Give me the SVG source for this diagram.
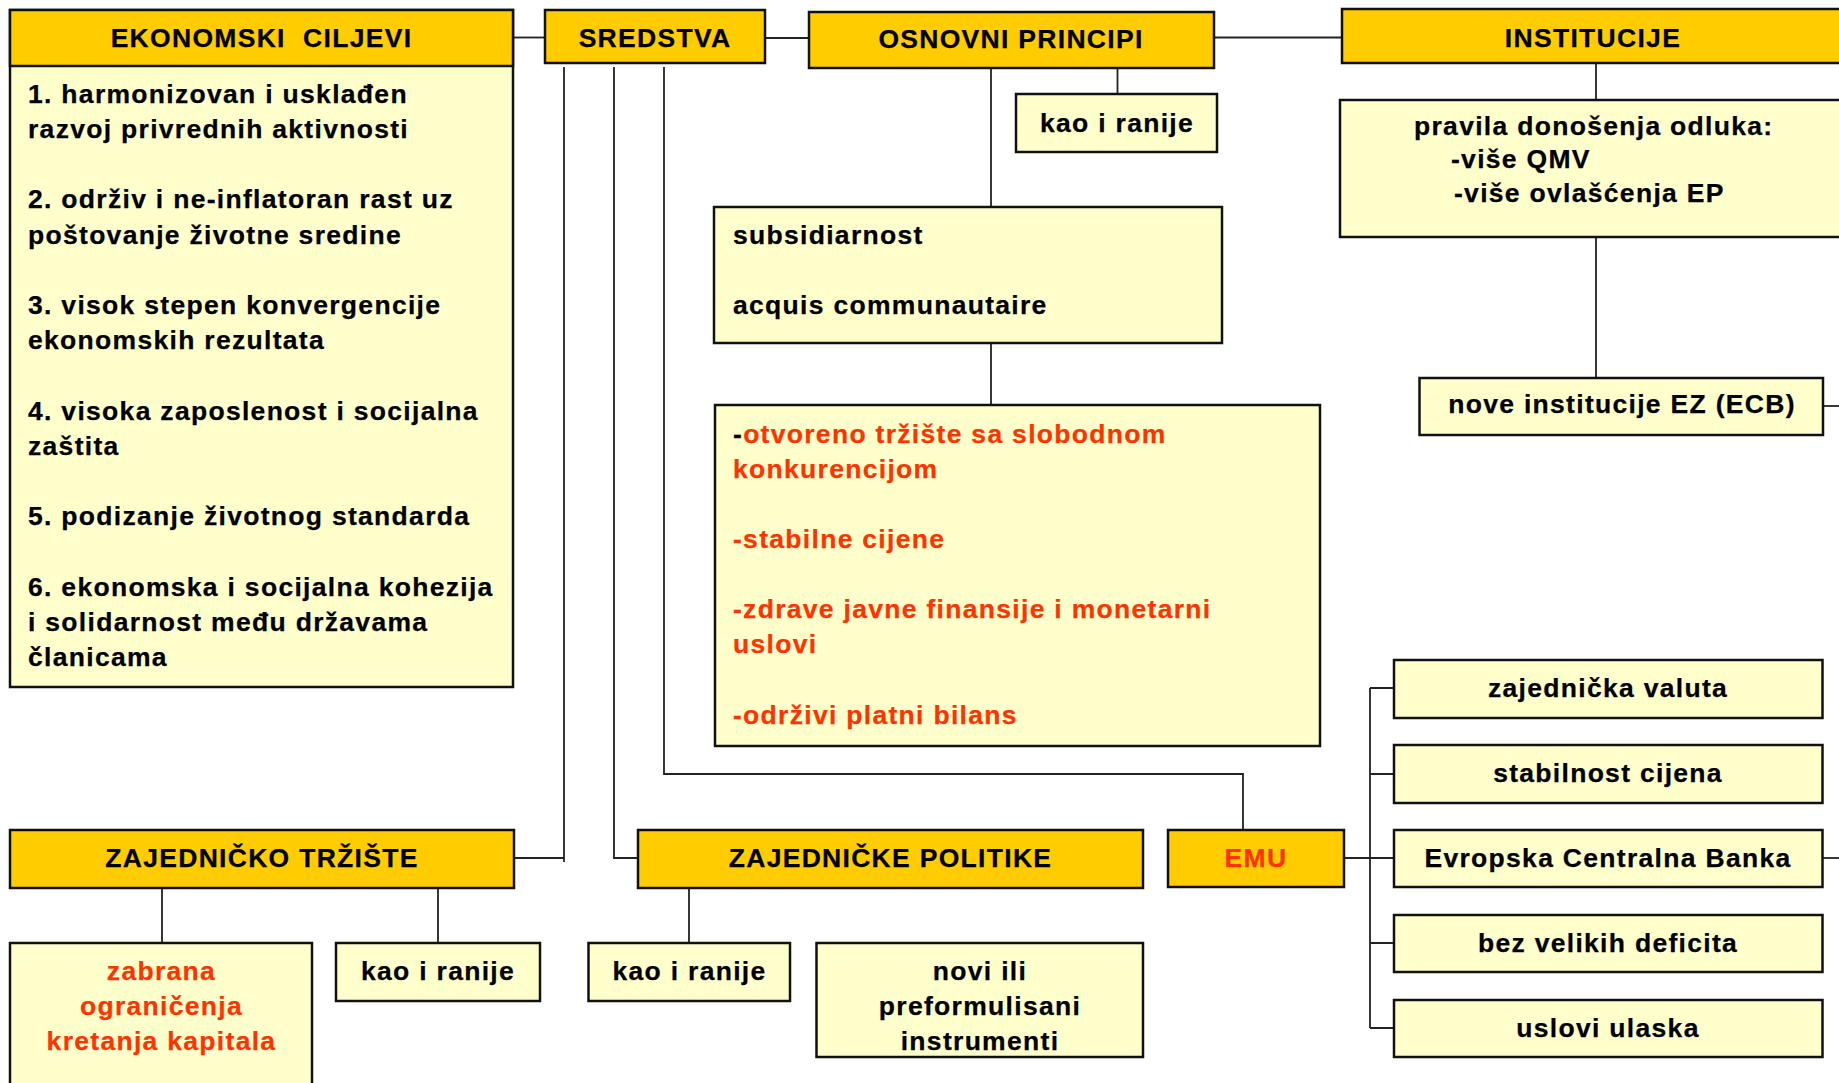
<svg xmlns="http://www.w3.org/2000/svg" width="1839" height="1083" viewBox="0 0 1839 1083">
<style>
.hd{fill:#FFCC00;stroke:#111;stroke-width:2.5}
.bx{fill:#FFFFCC;stroke:#111;stroke-width:2.5}
text{font-family:"Liberation Sans",Arial,sans-serif;font-weight:bold;font-size:26.5px;letter-spacing:1.3px;fill:#000;stroke:#000;stroke-width:0.25}
.c{text-anchor:middle}
.r{fill:#FF3300;stroke:#FF3300}
.k{fill:#000;stroke:#000}
.ln{fill:none;stroke:#222;stroke-width:1.8}
</style>
<rect width="1839" height="1083" fill="#fff"/>
<g id="connectors" class="ln">
<path d="M513,37.5H545"/>
<path d="M765,38H809"/>
<path d="M1214,37.5H1342"/>
<path d="M1117.5,68V94"/>
<path d="M991,68V207"/>
<path d="M991,343V405"/>
<path d="M1596,63V100"/>
<path d="M1596,237V378"/>
<path d="M1823,406H1839"/>
<path d="M564,67V862M514,858H564"/>
<path d="M614,67V858H638"/>
<path d="M664,67V774H1243V830"/>
<path d="M1344,858H1394M1370,688V1028M1370,688H1394M1370,774H1394M1370,943H1394M1370,1028H1394"/>
<path d="M1822,858H1839"/>
<path d="M162,888V943M438,888V943M689,888V943"/>
</g>
<g id="ekonomski-ciljevi">
<rect class="bx" x="10" y="10" width="503" height="677"/>
<rect class="hd" x="10" y="10" width="503" height="56"/>
<text class="c" x="261.5" y="47" style="white-space:pre">EKONOMSKI  CILJEVI</text>
<text x="28" y="102.7">1. harmonizovan i usklađen</text>
<text x="28" y="137.9">razvoj privrednih aktivnosti</text>
<text x="28" y="208.3">2. održiv i ne-inflatoran rast uz</text>
<text x="28" y="243.5">poštovanje životne sredine</text>
<text x="28" y="313.9">3. visok stepen konvergencije</text>
<text x="28" y="349.1">ekonomskih rezultata</text>
<text x="28" y="419.5">4. visoka zaposlenost i socijalna</text>
<text x="28" y="454.7">zaštita</text>
<text x="28" y="525.1">5. podizanje životnog standarda</text>
<text x="28" y="595.5">6. ekonomska i socijalna kohezija</text>
<text x="28" y="630.7">i solidarnost među državama</text>
<text x="28" y="665.9">članicama</text>
</g>
<g id="sredstva">
<rect class="hd" x="545" y="10" width="220" height="53"/>
<text class="c" x="655" y="46.5">SREDSTVA</text>
</g>
<g id="osnovni-principi">
<rect class="hd" x="809" y="12" width="405" height="56"/>
<text class="c" x="1011" y="47.7">OSNOVNI PRINCIPI</text>
</g>
<g id="institucije">
<rect class="hd" x="1342" y="9" width="503" height="54"/>
<text class="c" x="1593" y="46.7">INSTITUCIJE</text>
</g>
<g id="kao-i-ranije-op">
<rect class="bx" x="1016" y="94" width="201" height="58"/>
<text class="c" x="1117" y="131.7">kao i ranije</text>
</g>
<g id="subsidiarnost">
<rect class="bx" x="714" y="207" width="508" height="136"/>
<text x="733" y="244">subsidiarnost</text>
<text x="733" y="314.4">acquis communautaire</text>
</g>
<g id="principi-lista">
<rect class="bx" x="715" y="405" width="605" height="341"/>
<text class="r" x="733" y="442.7"><tspan class="k">-</tspan>otvoreno tržište sa slobodnom</text>
<text class="r" x="733" y="477.8">konkurencijom</text>
<text class="r" x="733" y="548">-stabilne cijene</text>
<text class="r" x="733" y="618.2">-zdrave javne finansije i monetarni</text>
<text class="r" x="733" y="653.3">uslovi</text>
<text class="r" x="733" y="723.5">-održivi platni bilans</text>
</g>
<g id="pravila">
<rect class="bx" x="1340" y="100" width="505" height="137"/>
<text x="1414" y="135">pravila donošenja odluka:</text>
<text x="1451" y="168.3">-više QMV</text>
<text x="1454" y="201.7">-više ovlašćenja EP</text>
</g>
<g id="nove-institucije">
<rect class="bx" x="1419.5" y="378" width="403.5" height="57"/>
<text class="c" x="1622" y="413">nove institucije EZ (ECB)</text>
</g>
<g id="zajednicko-trziste">
<rect class="hd" x="10" y="830" width="504" height="58"/>
<text class="c" x="262" y="867.3">ZAJEDNIČKO TRŽIŠTE</text>
</g>
<g id="zajednicke-politike">
<rect class="hd" x="638" y="830" width="505" height="58"/>
<text class="c" x="890.5" y="867.3">ZAJEDNIČKE POLITIKE</text>
</g>
<g id="emu">
<rect class="hd" x="1168" y="830" width="176" height="57"/>
<text class="c r" x="1256" y="866.7">EMU</text>
</g>
<g id="zabrana">
<rect class="bx" x="10" y="943" width="302" height="150"/>
<text class="c r" x="161.5" y="980">zabrana</text>
<text class="c r" x="161.5" y="1015">ograničenja</text>
<text class="c r" x="161.5" y="1049.5">kretanja kapitala</text>
</g>
<g id="kao-i-ranije-zt">
<rect class="bx" x="336" y="943" width="204" height="58"/>
<text class="c" x="438" y="980">kao i ranije</text>
</g>
<g id="kao-i-ranije-zp">
<rect class="bx" x="588.5" y="943" width="201.5" height="58"/>
<text class="c" x="689.5" y="980">kao i ranije</text>
</g>
<g id="novi-ili">
<rect class="bx" x="816.5" y="943" width="326.5" height="114"/>
<text class="c" x="980" y="980">novi ili</text>
<text class="c" x="980" y="1015">preformulisani</text>
<text class="c" x="980" y="1049.5">instrumenti</text>
</g>
<g id="zajednicka-valuta">
<rect class="bx" x="1394" y="660" width="428.5" height="58"/>
<text class="c" x="1608" y="697.3">zajednička valuta</text>
</g>
<g id="stabilnost-cijena">
<rect class="bx" x="1394" y="745" width="428.5" height="58"/>
<text class="c" x="1608" y="782.3">stabilnost cijena</text>
</g>
<g id="ecb">
<rect class="bx" x="1394" y="830" width="428.5" height="57"/>
<text class="c" x="1608" y="867.3">Evropska Centralna Banka</text>
</g>
<g id="bez-velikih-deficita">
<rect class="bx" x="1394" y="915" width="428.5" height="57"/>
<text class="c" x="1608" y="952.3">bez velikih deficita</text>
</g>
<g id="uslovi-ulaska">
<rect class="bx" x="1394" y="1000" width="428.5" height="57"/>
<text class="c" x="1608" y="1037.3">uslovi ulaska</text>
</g>
</svg>
